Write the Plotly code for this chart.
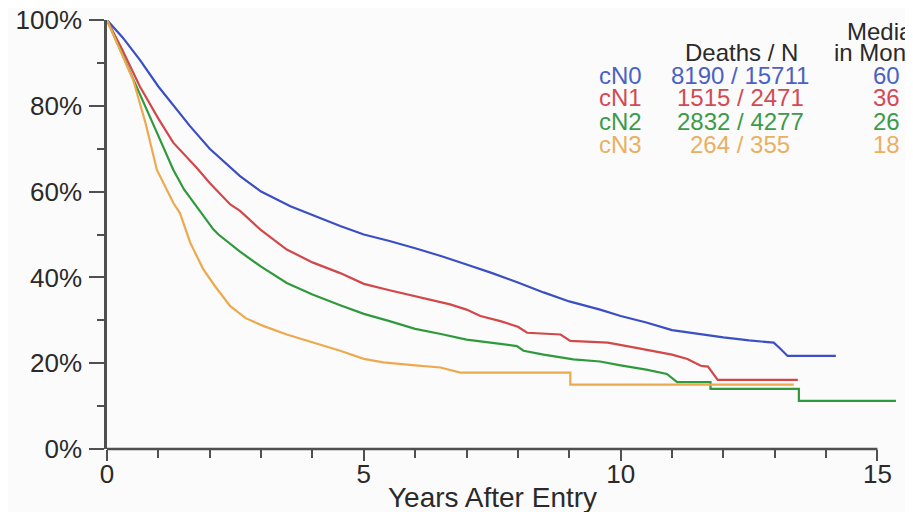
import plotly.graph_objects as go

# ---------------- data ----------------
groups = ["cN0", "cN1", "cN2", "cN3"]
deaths_n = ["8190 / 15711", "1515 / 2471", "2832 / 4277", "264 / 355"]
median_months = ["60", "36", "26", "18"]

t_cN0 = [0, 0.3, 0.64, 1.0, 1.62, 2.0, 2.59, 3.0, 3.57, 4.0, 4.54, 5.0, 5.5, 6.0, 6.5, 7.0,
         7.5, 8.0, 8.5, 9.0, 9.6, 10.0, 10.5, 11.0, 11.5, 12.0, 12.5, 12.98, 13.1, 13.25, 14.19]
s_cN0 = [1.0, 0.96, 0.907, 0.845, 0.752, 0.70, 0.636, 0.60, 0.566, 0.545, 0.52, 0.50, 0.485,
         0.468, 0.45, 0.43, 0.41, 0.388, 0.365, 0.344, 0.325, 0.31, 0.295, 0.277, 0.268, 0.26,
         0.253, 0.248, 0.235, 0.217, 0.217]

t_cN1 = [0, 0.3, 0.64, 1.0, 1.29, 1.75, 2.0, 2.4, 2.59, 3.0, 3.5, 4.0, 4.54, 5.0, 5.5, 5.84,
         6.2, 6.68, 7.0, 7.27, 7.66, 8.0, 8.18, 8.83, 9.02, 9.6, 9.75, 10.2, 10.64, 11.0, 11.3,
         11.56, 11.7, 11.89, 13.45]
s_cN1 = [1.0, 0.93, 0.845, 0.77, 0.714, 0.655, 0.62, 0.57, 0.555, 0.51, 0.465, 0.435, 0.41,
         0.385, 0.37, 0.36, 0.35, 0.337, 0.325, 0.31, 0.298, 0.285, 0.271, 0.267, 0.252, 0.25,
         0.248, 0.238, 0.229, 0.22, 0.21, 0.194, 0.192, 0.161, 0.161]

t_cN2 = [0, 0.3, 0.64, 1.0, 1.29, 1.5, 2.07, 2.17, 2.59, 3.0, 3.5, 4.0, 4.54, 5.0, 5.5, 6.0,
         6.5, 7.0, 7.66, 7.98, 8.11, 8.5, 9.08, 9.6, 10.0, 10.5, 10.9, 11.1, 11.75, 11.75,
         13.47, 13.47, 15.36]
s_cN2 = [1.0, 0.92, 0.829, 0.73, 0.651, 0.605, 0.512, 0.50, 0.46, 0.425, 0.387, 0.36, 0.335,
         0.315, 0.298, 0.28, 0.268, 0.255, 0.245, 0.24, 0.229, 0.22, 0.209, 0.204, 0.195,
         0.185, 0.175, 0.156, 0.156, 0.14, 0.14, 0.112, 0.112]

t_cN3 = [0, 0.3, 0.51, 0.75, 0.97, 1.29, 1.42, 1.62, 1.87, 2.1, 2.4, 2.7, 3.04, 3.5, 4.01,
         4.54, 5.0, 5.38, 6.0, 6.49, 6.88, 9.02, 9.02, 13.37]
s_cN3 = [1.0, 0.92, 0.86, 0.76, 0.651, 0.574, 0.55, 0.481, 0.42, 0.38, 0.333, 0.305, 0.287,
         0.267, 0.248, 0.229, 0.21, 0.202, 0.195, 0.19, 0.178, 0.178, 0.15, 0.15]

x_ticks = [0, 5, 10, 15]
y_ticks = [0, 0.2, 0.4, 0.6, 0.8, 1.0]
y_tick_labels = ["0%", "20%", "40%", "60%", "80%", "100%"]
x_axis_end = 15          # drawn axis line ends here
x_view_end = 15.4        # the last curve runs a little past the axis end

# ---------------- styling ----------------
line_colors = ["#3b4fc4", "#d2474a", "#2f9a3c", "#eda94e"]
text_colors = ["#4a62c4", "#d24a52", "#3c9a4a", "#e9b062"]
FONT = "Liberation Sans, Arial, sans-serif"
AXIS_COLOR = "#505050"
TEXT_COLOR = "#2a2a2a"

# the page body has an 8px default margin; the figure fills the rest of the 913x512 window
OFF = 8
W, H = 913 - OFF, 512 - OFF
px_per_year = 770 / 15
L, T, B = 107 - OFF, 20 - OFF, 63
R = W - L - px_per_year * x_view_end
pw, ph = W - L - R, H - T - B


def px_x(px):
    # px given in window pixels
    return (px - OFF - L) / pw


def px_y(py):
    return (H - B - (py - OFF)) / ph


fig = go.Figure()
series = [(t_cN0, s_cN0), (t_cN1, s_cN1), (t_cN2, s_cN2), (t_cN3, s_cN3)]
for name, (tt, ss), col in zip(groups, series, line_colors):
    fig.add_trace(go.Scatter(x=tt, y=ss, mode="lines", name=name,
                             line=dict(color=col, width=2.2), showlegend=False))


def ann(text, px, py, anchor, color, size=24):
    return dict(text=text, x=px_x(px), y=px_y(py), xref="paper", yref="paper",
                xanchor=anchor, yanchor="middle", showarrow=False,
                font=dict(family=FONT, size=size, color=color))


annotations = [
    ann("Deaths / N", 741, 52, "center", TEXT_COLOR),
    ann("Median", 886, 31, "center", TEXT_COLOR),
    ann("in Months", 886, 52, "center", TEXT_COLOR),
]
row_y = [75, 98, 121, 144]
for i, g in enumerate(groups):
    annotations.append(ann(g, 644, row_y[i], "right", text_colors[i]))
    annotations.append(ann(deaths_n[i], 740, row_y[i], "center", text_colors[i]))
    annotations.append(ann(median_months[i], 886, row_y[i], "center", text_colors[i]))
annotations.append(ann("Years After Entry", 492, 497, "center", TEXT_COLOR, size=28))

fig.add_shape(type="line", xref="x", yref="paper", x0=0, x1=x_axis_end, y0=0, y1=0,
              line=dict(color=AXIS_COLOR, width=2.5), layer="above")

fig.update_layout(
    width=W, height=H,
    margin=dict(l=L, r=R, t=T, b=B, pad=0, autoexpand=False),
    paper_bgcolor="#fbfbfb", plot_bgcolor="#fbfbfb",
    annotations=annotations,
    xaxis=dict(range=[0, x_view_end], tickvals=x_ticks, ticktext=[str(v) for v in x_ticks],
               automargin=False, ticklabeloverflow="allow",
               showgrid=False, zeroline=False, showline=False,
               ticks="outside", ticklen=11, tickwidth=2, tickcolor=AXIS_COLOR,
               minor=dict(dtick=1, ticks="outside", ticklen=8, tickwidth=1.5,
                          tickcolor=AXIS_COLOR, showgrid=False),
               tickfont=dict(family=FONT, size=26, color=TEXT_COLOR), ticklabelstandoff=-9),
    yaxis=dict(range=[0, 1.0], tickvals=y_ticks, ticktext=y_tick_labels,
               automargin=False, ticklabeloverflow="allow",
               showgrid=False, zeroline=False, showline=True, linecolor=AXIS_COLOR, linewidth=2.5,
               ticks="outside", ticklen=15, tickwidth=2, tickcolor=AXIS_COLOR,
               minor=dict(dtick=0.1, ticks="outside", ticklen=7, tickwidth=1.5,
                          tickcolor=AXIS_COLOR, showgrid=False),
               tickfont=dict(family=FONT, size=26, color=TEXT_COLOR), ticklabelstandoff=2),
)

fig.write_html("out.html")
